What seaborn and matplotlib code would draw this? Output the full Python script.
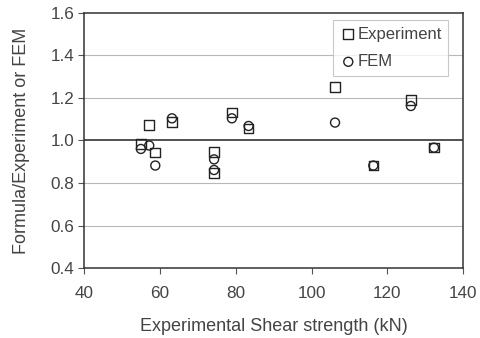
import numpy as np
import pandas as pd
import seaborn as sns
import matplotlib.pyplot as plt

# data
strength = [55.0, 57.2, 58.8, 63.2, 74.3, 74.3, 79.0, 83.4, 106.2, 116.3, 126.2, 132.3]
experiment = [0.984, 1.072, 0.943, 1.088, 0.947, 0.848, 1.131, 1.057, 1.25, 0.882, 1.19, 0.966]
fem = [0.96, 0.976, 0.882, 1.104, 0.911, 0.861, 1.104, 1.068, 1.084, 0.882, 1.162, 0.966]

df = pd.DataFrame({"x": strength, "Experiment": experiment, "FEM": fem})

sns.set_style("white")
plt.rcParams['font.family'] = ['Liberation Sans', 'DejaVu Sans']
grey = "#444444"

fig, ax = plt.subplots(figsize=(4.8, 3.38), dpi=100)
fig.subplots_adjust(left=0.175, right=0.965, bottom=0.207, top=0.962)

for yv in [0.6, 0.8, 1.2, 1.4]:
    ax.axhline(yv, color="#b8b8b8", lw=0.8, zorder=0)
ax.axhline(1.0, color="#333333", lw=1.2, zorder=1)

sns.scatterplot(data=df, x="x", y="Experiment", marker="s", s=48,
                facecolor="none", edgecolor="#222222", linewidth=1.0,
                label="Experiment", ax=ax, zorder=3)
sns.scatterplot(data=df, x="x", y="FEM", marker="o", s=42,
                facecolor="none", edgecolor="#222222", linewidth=1.0,
                label="FEM", ax=ax, zorder=3)

ax.set_xlim(40, 140)
ax.set_ylim(0.4, 1.6)
ax.set_xticks([40, 60, 80, 100, 120, 140])
ax.set_yticks([0.4, 0.6, 0.8, 1.0, 1.2, 1.4, 1.6])
ax.set_yticklabels([f"{v:.1f}" for v in [0.4, 0.6, 0.8, 1.0, 1.2, 1.4, 1.6]])
ax.tick_params(axis="both", direction="out", length=4, width=0.8,
               colors="#555555", labelcolor=grey, labelsize=12.3, left=True, bottom=True)
ax.tick_params(axis="x", pad=9)
ax.tick_params(axis="y", pad=3)
ax.set_xlabel("Experimental Shear strength (kN)", color=grey, fontsize=13, labelpad=12)
ax.set_ylabel("Formula/Experiment or FEM", color=grey, fontsize=13, labelpad=15)

for sp in ax.spines.values():
    sp.set_color("#333333")
    sp.set_linewidth(1.1)

leg = ax.legend(loc="upper right", bbox_to_anchor=(0.97, 0.985), frameon=True,
                fancybox=False, fontsize=12, handletextpad=0.05,
                borderpad=0.4, labelspacing=0.75, handlelength=1.0,
                borderaxespad=0.2)
leg.get_frame().set_edgecolor("#bbbbbb")
leg.get_frame().set_linewidth(0.8)
for t in leg.get_texts():
    t.set_color(grey)

fig.savefig("out.png", dpi=100)
